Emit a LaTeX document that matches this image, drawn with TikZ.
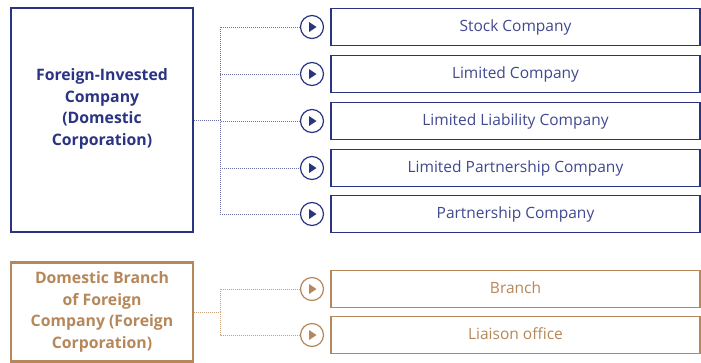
\documentclass[tikz,border=0pt]{standalone}
\usepackage{fontspec}
\setmainfont{Open Sans}
\usepackage{tikz}
\usetikzlibrary{positioning}
\definecolor{navy}{HTML}{2B3483}
\definecolor{tan}{HTML}{B5875A}

\begin{document}
\begin{tikzpicture}[x=1pt,y=-1pt,
    mainbox/.style={draw, line width=2.4pt, minimum width=182pt, inner sep=0pt},
    boxtext/.style={align=center, font=\bfseries\fontsize{15.8}{21.5}\selectfont},
    formbox/.style={draw, line width=1.2pt, minimum width=369pt, minimum height=37pt,
      inner sep=0pt, text height=11.5pt, text depth=2pt, font=\fontsize{15.5}{17}\selectfont},
    knob/.style={shape=circle, draw, line width=1.2pt, minimum size=23pt, inner sep=0pt},
    link/.style={densely dotted, line width=1pt}]
    \useasboundingbox (0,0) rectangle (701,362);

    % foreign-invested company
    \node[mainbox, navy, minimum height=224pt] (fic) at (102,120) {};
    \node[boxtext, navy] (fictext) at (102,109)
      {Foreign-Invested\\Company\\(Domestic\\Corporation)};
    \coordinate (ficfork) at (220,120);
    \draw[link, navy!70] (fic.east) -- (ficfork);
    \foreach \y/\name/\txt in {27/sc/Stock Company, 74/lc/Limited Company,
        121/llc/Limited Liability Company, 168/lpc/Limited Partnership Company,
        214/pc/Partnership Company} {
      \node[formbox, navy, text=navy!90] (\name) at (515.5,\y) {\txt};
      \node[knob, navy] (k\name) at (312,\y) {};
      \fill[navy] ([xshift=-3pt,yshift=5pt]k\name.center) -- ([xshift=4.5pt]k\name.center)
        -- ([xshift=-3pt,yshift=-5pt]k\name.center) -- cycle;
      \draw[link, navy!70] (ficfork) |- (k\name.west);
    }

    % domestic branch of foreign company
    \node[mainbox, tan, minimum height=99pt] (dbf) at (102,312) {};
    \node[boxtext, tan] (dbftext) at (102,312)
      {Domestic Branch\\of Foreign\\Company (Foreign\\Corporation)};
    \coordinate (dbffork) at (220,312);
    \draw[link, tan!80] (dbf.east) -- (dbffork);
    \foreach \y/\name/\txt in {289/br/Branch, 335/lo/Liaison office} {
      \node[formbox, tan] (\name) at (515.5,\y) {\txt};
      \node[knob, tan] (k\name) at (312,\y) {};
      \fill[tan] ([xshift=-3pt,yshift=5pt]k\name.center) -- ([xshift=4.5pt]k\name.center)
        -- ([xshift=-3pt,yshift=-5pt]k\name.center) -- cycle;
      \draw[link, tan!80] (dbffork) |- (k\name.west);
    }
\end{tikzpicture}
\end{document}
